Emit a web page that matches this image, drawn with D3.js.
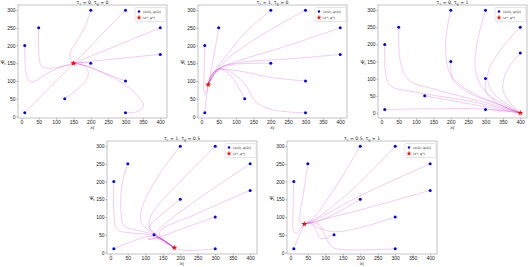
<!DOCTYPE html>
<html>
<head>
<meta charset="utf-8">
<script src="https://cdn.jsdelivr.net/npm/d3@7"></script>
<style>
  body { margin: 0; background: #fff; }
  svg { display: block; font-family: "DejaVu Sans", sans-serif; }
</style>
</head>
<body>
<svg id="chart" width="530" height="267"></svg>
<script>
// initial conditions (same in every panel)
const starts = [[10, 10], [10, 200], [50, 250], [125, 50], [200, 300], [200, 150],
                [300, 300], [300, 100], [300, 10], [400, 250], [400, 175]];

const tauC = ["0", "1", "0", "1", "0.5"];
const tauG = ["0", "0", "1", "0.5", "1"];

// equilibrium point of each panel
const equilibria = [[150, 150], [20, 90], [400, 0], [183, 13], [40, 80]];

const xTicks = [0, 50, 100, 150, 200, 250, 300, 350, 400];
const yTicks = [0, 50, 100, 150, 200, 250, 300];

// trajectory waypoints, one list per start point (same order as starts)
const paths1 = [
  [[10, 10], [80, 80], [150, 150]],
  [[10, 200], [13, 130], [22, 100], [35, 98], [80, 125], [120, 142], [150, 150]],
  [[50, 250], [51, 170], [58, 142], [78, 136], [120, 141], [150, 150]],
  [[125, 50], [160, 75], [185, 100], [193, 122], [185, 140], [165, 148], [150, 150]],
  [[200, 300], [182, 250], [155, 205], [140, 178], [143, 160], [150, 150]],
  [[200, 150], [175, 152], [150, 150]],
  [[300, 300], [235, 235], [180, 178], [150, 150]],
  [[300, 100], [240, 122], [190, 142], [150, 150]],
  [[300, 10], [335, 14], [352, 30], [335, 58], [285, 98], [220, 130], [170, 147], [150, 150]],
  [[400, 250], [275, 200], [150, 150]],
  [[400, 175], [275, 163], [150, 150]]
];
const paths2 = [
  [[10, 10], [14, 45], [20, 90]],
  [[10, 200], [8, 120], [8, 68], [12, 62], [17, 78], [20, 90]],
  [[50, 250], [38, 180], [27, 125], [20, 90]],
  [[125, 50], [105, 85], [80, 120], [55, 135], [33, 122], [20, 90]],
  [[200, 300], [130, 240], [75, 175], [40, 130], [20, 90]],
  [[200, 150], [150, 150], [80, 145], [40, 128], [20, 90]],
  [[300, 300], [200, 245], [100, 182], [50, 137], [20, 90]],
  [[300, 100], [200, 110], [110, 128], [55, 132], [30, 115], [20, 90]],
  [[300, 10], [200, 20], [155, 43], [130, 85], [100, 115], [60, 135], [30, 120], [20, 90]],
  [[400, 250], [250, 200], [110, 158], [50, 133], [20, 90]],
  [[400, 175], [250, 162], [110, 152], [50, 135], [20, 90]]
];
const paths3 = [
  [[10, 10], [150, 12], [300, 11], [400, 0]],
  [[10, 200], [12, 120], [25, 80], [100, 60], [250, 35], [400, 0]],
  [[50, 250], [55, 150], [80, 95], [150, 70], [300, 30], [400, 0]],
  [[125, 50], [250, 27], [400, 0]],
  [[200, 300], [185, 200], [200, 110], [260, 60], [350, 20], [400, 0]],
  [[200, 150], [205, 100], [250, 60], [350, 20], [400, 0]],
  [[300, 300], [275, 200], [272, 120], [300, 62], [370, 15], [400, 0]],
  [[300, 100], [302, 60], [340, 25], [400, 0]],
  [[300, 10], [350, 6], [400, 0]],
  [[400, 250], [340, 180], [306, 110], [320, 60], [370, 20], [400, 0]],
  [[400, 175], [360, 120], [350, 70], [370, 30], [400, 0]]
];
const paths4 = [
  [[10, 10], [60, 30], [110, 45], [150, 35], [183, 13]],
  [[10, 200], [10, 120], [20, 65], [60, 55], [110, 50], [150, 35], [183, 13]],
  [[50, 250], [35, 200], [30, 120], [40, 75], [80, 62], [125, 50], [150, 35], [183, 13]],
  [[125, 50], [155, 33], [183, 13]],
  [[200, 300], [140, 220], [92, 130], [88, 85], [112, 60], [150, 35], [183, 13]],
  [[300, 300], [200, 200], [120, 110], [112, 70], [150, 35], [183, 13]],
  [[200, 150], [150, 110], [112, 70], [132, 50], [183, 13]],
  [[300, 100], [200, 65], [130, 40], [108, 36], [140, 40], [183, 13]],
  [[300, 10], [240, 6], [195, 8], [183, 13]],
  [[400, 250], [250, 150], [150, 75], [130, 50], [183, 13]],
  [[400, 175], [250, 110], [140, 55], [183, 13]]
];
const paths5 = [
  [[10, 10], [20, 35], [33, 65], [40, 80]],
  [[10, 200], [8, 120], [10, 58], [20, 55], [30, 68], [40, 80]],
  [[50, 250], [38, 170], [28, 110], [28, 86], [40, 80]],
  [[125, 50], [100, 40], [85, 40], [75, 60], [60, 80], [40, 80]],
  [[200, 300], [120, 170], [70, 102], [40, 80]],
  [[200, 150], [130, 110], [80, 88], [40, 80]],
  [[300, 300], [180, 180], [80, 100], [40, 80]],
  [[300, 100], [200, 70], [125, 58], [80, 70], [60, 82], [40, 80]],
  [[300, 10], [150, 8], [120, 15], [100, 45], [85, 75], [60, 86], [40, 80]],
  [[400, 250], [200, 160], [80, 96], [40, 80]],
  [[400, 175], [200, 120], [80, 90], [40, 80]]
];
const allPaths = [paths1, paths2, paths3, paths4, paths5];

// panel frames in pixels
const frames = [
  { x: 18, y: 5, w: 149, h: 113 },
  { x: 198, y: 5, w: 149, h: 113 },
  { x: 378, y: 5, w: 149, h: 113 },
  { x: 107, y: 141, w: 150, h: 113 },
  { x: 287, y: 141, w: 150, h: 113 }
];

const svg = d3.select("#chart");

function padded(lo, hi) {
  const m = (hi - lo) * 0.05;
  return [lo - m, hi + m];
}

frames.forEach((f, i) => {
  const pts = starts.concat([equilibria[i]]);
  const xScale = d3.scaleLinear().domain(padded(d3.min(pts, d => d[0]), d3.max(pts, d => d[0]))).range([0, f.w]);
  const yScale = d3.scaleLinear().domain(padded(d3.min(pts, d => d[1]), d3.max(pts, d => d[1]))).range([f.h, 0]);

  const g = svg.append("g").attr("transform", `translate(${f.x},${f.y})`);

  // trajectories
  const line = d3.line().x(d => xScale(d[0])).y(d => yScale(d[1])).curve(d3.curveCatmullRom.alpha(0.5));
  g.selectAll(".traj").data(allPaths[i]).enter().append("path")
    .attr("d", line)
    .attr("fill", "none")
    .attr("stroke", "#cc33cc")
    .attr("stroke-opacity", 0.3)
    .attr("stroke-width", 0.8);

  // start points
  g.selectAll(".start").data(starts).enter().append("circle")
    .attr("cx", d => xScale(d[0]))
    .attr("cy", d => yScale(d[1]))
    .attr("r", 1.5)
    .attr("fill", "#0000ff");

  // equilibrium star
  g.append("path")
    .attr("d", d3.symbol(d3.symbolStar, 11)())
    .attr("transform", `translate(${xScale(equilibria[i][0])},${yScale(equilibria[i][1])})`)
    .attr("fill", "#ff0000");

  // axes
  const xAxis = g.append("g").attr("transform", `translate(0,${f.h})`)
    .call(d3.axisBottom(xScale).tickValues(xTicks).tickSize(1.5).tickPadding(1));
  const yAxis = g.append("g")
    .call(d3.axisLeft(yScale).tickValues(yTicks).tickSize(1.5).tickPadding(1));
  [xAxis, yAxis].forEach(a => {
    a.selectAll("text").attr("font-size", 5).attr("fill", "#222");
    a.selectAll("line").attr("stroke", "#555").attr("stroke-width", 0.5);
    a.select(".domain").remove();
  });

  // frame
  g.append("rect").attr("width", f.w).attr("height", f.h)
    .attr("fill", "none").attr("stroke", "#aaa").attr("stroke-width", 0.7);

  // title
  const t = g.append("text").attr("x", f.w / 2).attr("y", -1.5)
    .attr("text-anchor", "middle").attr("font-size", 4.6).attr("fill", "#222");
  t.append("tspan").text("τ");
  t.append("tspan").attr("font-size", 3.3).attr("dy", 1).text("c");
  t.append("tspan").attr("dy", -1).text(" = " + tauC[i] + ", τ");
  t.append("tspan").attr("font-size", 3.3).attr("dy", 1).text("g");
  t.append("tspan").attr("dy", -1).text(" = " + tauG[i]);

  // x label
  const xl = g.append("text").attr("x", f.w / 2).attr("y", f.h + 11)
    .attr("text-anchor", "middle").attr("font-size", 4.4).attr("font-style", "italic").attr("fill", "#222");
  xl.append("tspan").text("x");
  xl.append("tspan").attr("font-size", 3).attr("dy", -1.2).text("c");
  xl.append("tspan").attr("font-size", 3).attr("dx", -1.7).attr("dy", 2).text("t");

  // y label
  const yl = g.append("text").attr("x", -15).attr("y", f.h / 2 + 2)
    .attr("text-anchor", "middle").attr("font-size", 5).attr("fill", "#222");
  yl.append("tspan").text("Ψ");
  yl.append("tspan").attr("font-size", 3.2).attr("dy", 1.2).text("t");

  // legend
  const lg = g.append("g").attr("transform", `translate(${f.w - 32},2.5)`);
  lg.append("rect").attr("width", 31).attr("height", 14)
    .attr("fill", "#fff").attr("stroke", "#ccc").attr("stroke-width", 0.5).attr("rx", 1);
  lg.append("circle").attr("cx", 4).attr("cy", 4).attr("r", 1.2).attr("fill", "#0000ff");
  lg.append("path").attr("d", d3.symbol(d3.symbolStar, 8)())
    .attr("transform", "translate(4,10)").attr("fill", "#ff0000");
  lg.append("text").attr("x", 8).attr("y", 5.2).attr("font-size", 3.3).attr("fill", "#222")
    .text("(x(0), ψ(0))");
  lg.append("text").attr("x", 8).attr("y", 11.2).attr("font-size", 3.3).attr("fill", "#222")
    .text("(x*, ψ*)");
});
</script>
</body>
</html>
